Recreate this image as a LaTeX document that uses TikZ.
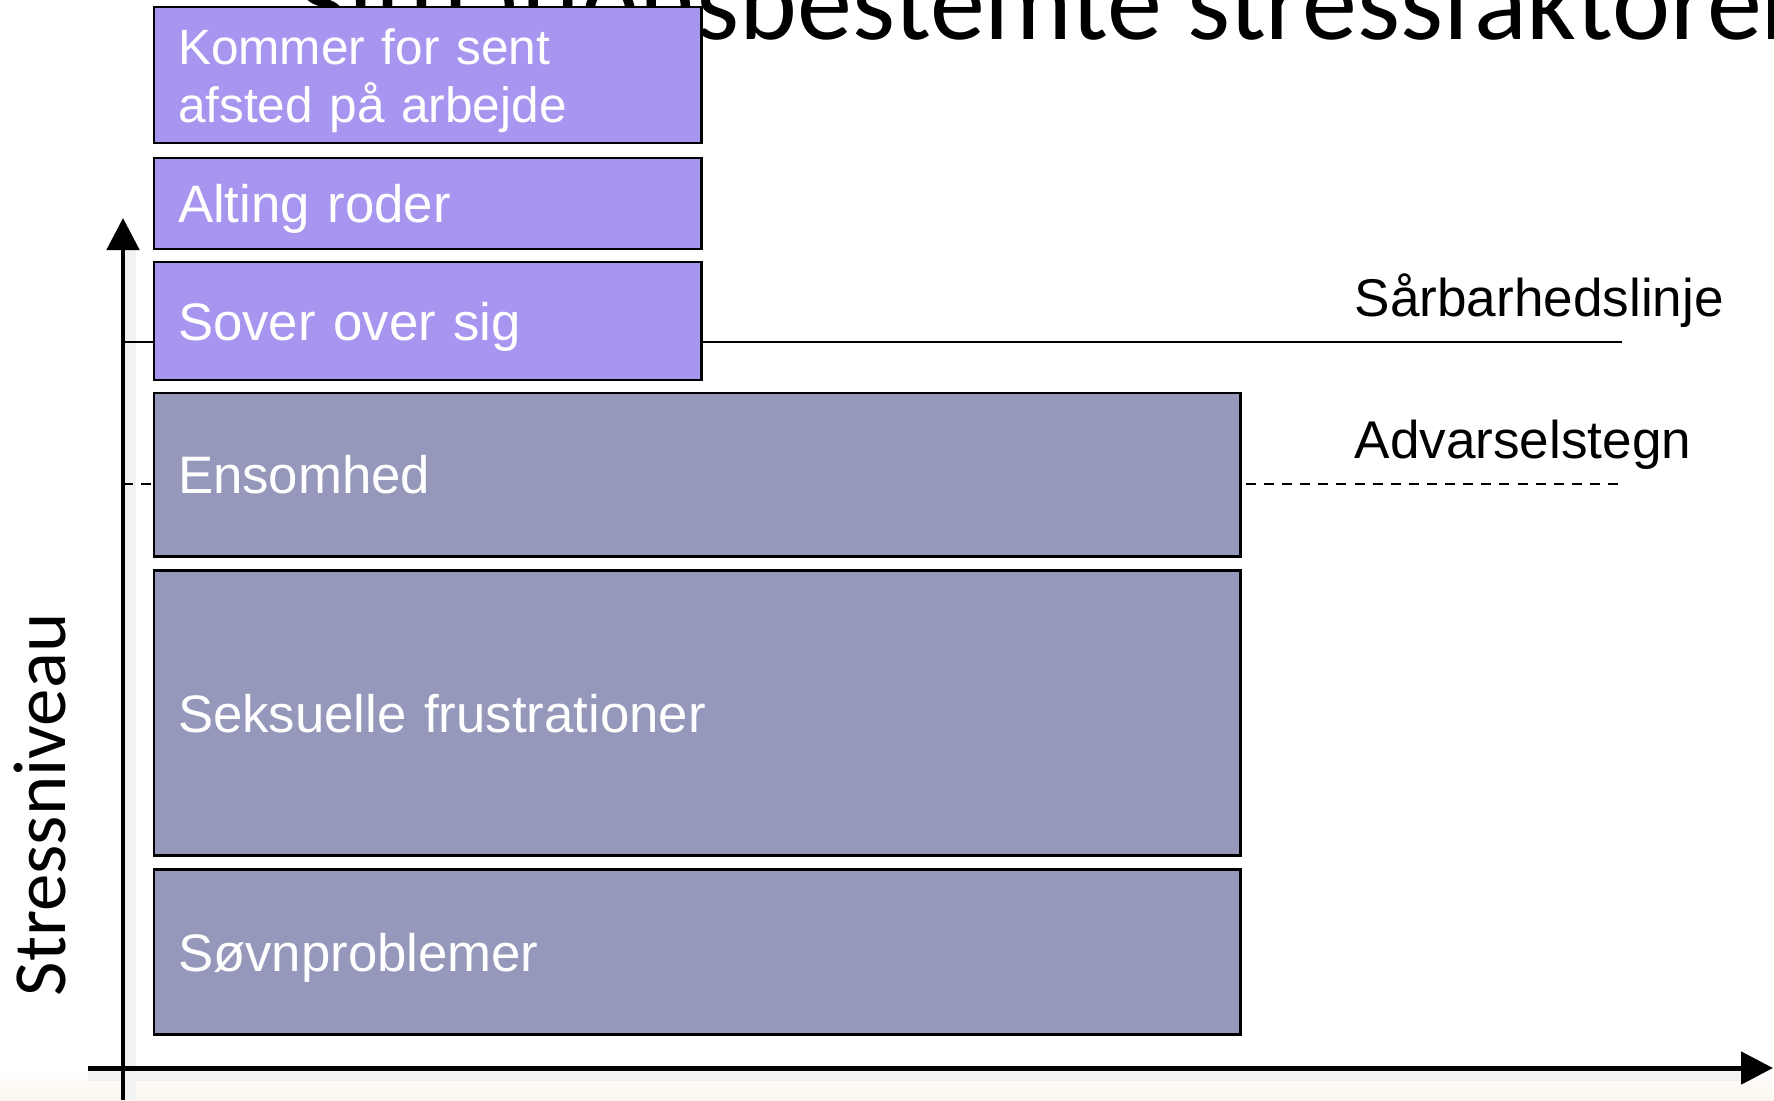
\documentclass[tikz,border=0pt]{standalone}
\usepackage{fontspec}
\setmainfont{Liberation Sans}
\newfontfamily\calibri{Carlito}
\usetikzlibrary{arrows.meta, positioning}

\definecolor{lilla}{RGB}{167,149,239}
\definecolor{graablaa}{RGB}{149,152,186}
\definecolor{sand}{RGB}{252,246,236}

\begin{document}
\begin{tikzpicture}[x=0.01cm, y=-0.01cm,
  stressbox/.style={draw=black, line width=0.7pt, outer sep=0pt, inner xsep=0.24cm,
    inner ysep=0pt, text depth=0pt, align=left, text=white, font=\fontsize{15}{17}\selectfont},
  kort/.style={stressbox, fill=lilla, minimum width=5.47cm, text width=4.99cm},
  lang/.style={stressbox, fill=graablaa, minimum width=10.86cm, text width=10.38cm},
  akse/.style={line width=1.42pt, -{Triangle[width=0.32cm,length=0.32cm]}},
  skygge/.style={line width=4pt, black!5},
  niveau/.style={font=\fontsize{15.1}{17}\selectfont, anchor=west, inner sep=0pt, text depth=0pt}]
  \useasboundingbox (0,0) rectangle (1774,1100);
  \clip (0,0) rectangle (1774,1100);
  \shade[top color=white, bottom color=sand] (0,1072) rectangle (1774,1100);
  % titel, delvis skjult
  \node[font=\calibri\fontsize{31.3}{36}\selectfont, anchor=base east, inner sep=0pt]
    (titel) at (1801,39) {Situationsbestemte stressfaktorer};
  % akser
  \coordinate (ybund) at (123,1100);
  \coordinate (ytop) at (123,218);
  \coordinate (xstart) at (88,1068);
  \coordinate (xslut) at (1773,1068);
  \draw[skygge] (129,1100) -- (129,240);
  \draw[skygge] (88,1074) -- (1750,1074);
  \draw[akse] (ybund) -- (ytop);
  \draw[akse] (xstart) -- (xslut);
  \node[rotate=90, font=\calibri\fontsize{21.3}{24}\selectfont, inner sep=0pt]
    (yakse) at (40,805) {Stressniveau};
  % linjer
  \coordinate (saarv) at (123,342);
  \coordinate (saarh) at (1622,342);
  \coordinate (advv) at (123,484);
  \coordinate (advh) at (1618,484);
  \draw[line width=0.65pt] (saarv) -- (saarh);
  \draw[line width=0.65pt, dash pattern=on 2.85pt off 2.3pt] (advv) -- (advh);
  \node[niveau] (saarlabel) at (1354,295) {Sårbarhedslinje};
  \node[niveau] (advlabel) at (1354,439) {Advarselstegn};
  % stressfaktorer
  \node[kort, minimum height=1.36cm, anchor=north west, text depth=16.2pt,
    font=\fontsize{14.1}{16.6}\selectfont]
    (sent) at (154,7) {Kommer for sent\\afsted på arbejde};
  \node[kort, minimum height=0.91cm, below=0.15cm of sent.south west, anchor=north west]
    (roder) {Alting roder};
  \node[kort, minimum height=1.18cm, below=0.13cm of roder.south west, anchor=north west]
    (sover) {Sover over sig};
  \node[lang, minimum height=1.63cm, below=0.13cm of sover.south west, anchor=north west]
    (ensom) {Ensomhed};
  \node[lang, minimum height=2.85cm, below=0.14cm of ensom.south west, anchor=north west]
    (seks) {Seksuelle frustrationer};
  \node[lang, minimum height=1.65cm, below=0.14cm of seks.south west, anchor=north west]
    (soevn) {Søvnproblemer};
\end{tikzpicture}
\end{document}
